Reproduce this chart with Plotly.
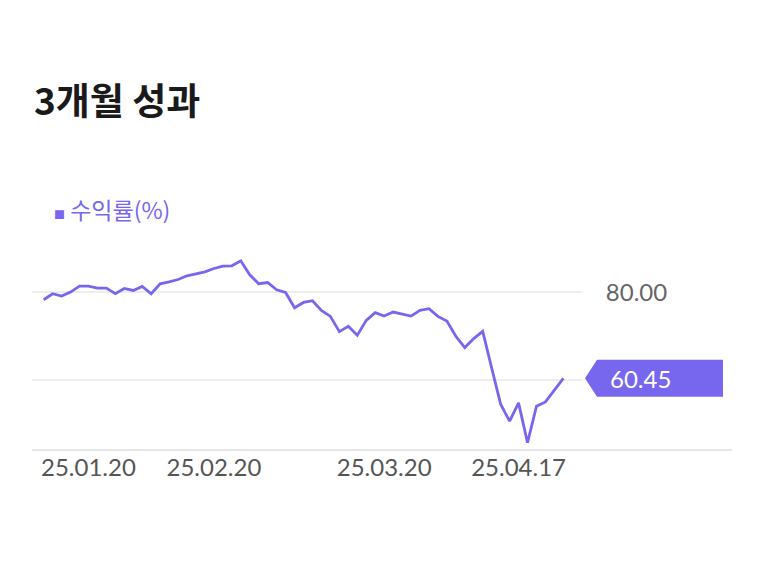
import plotly.graph_objects as go

# 3개월 수익률 (%) - 일별
returns = [78.28, 79.64, 79.10, 80.00, 81.36, 81.36, 80.90, 80.90, 79.64, 80.84,
           80.38, 81.29, 79.64, 81.90, 82.35, 82.87, 83.71, 84.16, 84.61, 85.36,
           85.88, 85.97, 87.10, 83.94, 81.90, 82.19, 80.54, 79.93, 76.47, 77.67,
           78.05, 75.86, 74.50, 71.04, 72.24, 70.20, 73.60, 75.34, 74.57, 75.48,
           75.11, 74.57, 75.86, 76.24, 74.50, 73.44, 69.98, 67.42, 69.46, 71.11,
           62.80, 54.59, 50.75, 54.89, 45.84, 54.14, 55.11, 57.76, 60.45]
idx = list(range(len(returns)))

tick_pos = [5, 19, 38, 53]
tick_text = ['25.01.20', '25.02.20', '25.03.20', '25.04.17']

y_ticks = [60, 80]
y_labels = ['', '80.00']  # 60 sits under the last-value badge

title_text = '3개월 성과'
series_name = '수익률(%)'

purple = '#7766ee'
last = returns[-1]

fig = go.Figure()
fig.add_trace(go.Scatter(x=idx, y=returns, mode='lines', name=series_name,
                         line=dict(color=purple, width=2.8), hoverinfo='skip'))

# page has an 8px body margin, so the figure itself starts at (8, 8)
fig.update_layout(
    width=768, height=576,
    margin=dict(l=24, r=194, t=217.5, b=134),
    paper_bgcolor='white', plot_bgcolor='white',
    showlegend=False,
    title=dict(text='<b>' + title_text + '</b>', x=26 / 768, xref='container', xanchor='left',
               y=1 - 94 / 576, yref='container', yanchor='middle',
               font=dict(family='Noto Sans CJK KR', size=37, color='#1a1a1a')),
    xaxis=dict(range=[-1.3, 60.08], tickvals=tick_pos, ticktext=tick_text,
               showgrid=False, zeroline=False, showline=False,
               ticks='', ticklabelstandoff=1,
               tickfont=dict(family='Lato', size=24, color='#555555')),
    yaxis=dict(range=[44.2, 95], tickvals=y_ticks, ticktext=y_labels, side='right',
               showgrid=True, gridcolor='#eeeeee', gridwidth=1.5, zeroline=False,
               ticks='outside', ticklen=18, tickcolor='rgba(0,0,0,0)',
               tickfont=dict(family='Lato', size=24, color='#666666')),
)

# bottom axis line, running past the plot area
fig.add_shape(type='line', xref='paper', yref='paper', x0=0, x1=(732 - 32) / 550,
              y0=0, y1=0, line=dict(color='#dddddd', width=1.5), layer='above')

# last value badge
fig.add_shape(type='path', xref='paper', yref='y', xsizemode='pixel', ysizemode='pixel',
              xanchor=1, yanchor=last,
              path='M 3 0 L 15 18.5 L 141 18.5 L 141 -18.5 L 15 -18.5 Z',
              fillcolor=purple, line=dict(width=0), layer='above')
fig.add_annotation(x=1 + (608 - 582) / 550, xref='paper', y=last, yref='y',
                   xanchor='left', yanchor='middle', showarrow=False,
                   text=f'{last:.2f}', font=dict(family='Lato', size=24, color='white'))

# legend label
fig.add_annotation(x=(52 - 32) / 550, xref='paper', y=(450 - 208) / 224.5, yref='paper',
                   xanchor='left', yanchor='middle', showarrow=False,
                   text='<span style="font-size:11px">■</span> ' + series_name,
                   font=dict(family='Noto Sans CJK KR', size=23, color=purple))

fig.write_html("out.html")
